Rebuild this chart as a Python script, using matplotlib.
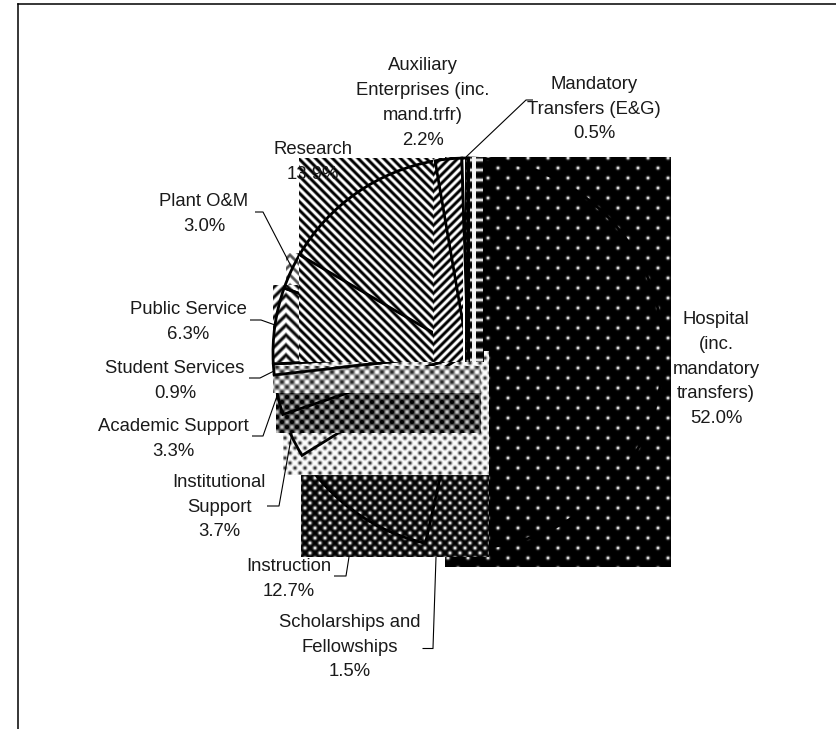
import numpy as np
import matplotlib
matplotlib.use('Agg')
import matplotlib.pyplot as plt

W, H = 836, 729

# clockwise from the top, same order the slices get painted
categories = ['Hospital\n(inc.\nmandatory\ntransfers)', 'Scholarships and\nFellowships',
              'Instruction', 'Institutional\nSupport', 'Academic Support',
              'Student Services', 'Public Service', 'Plant O&M', 'Research',
              'Auxiliary\nEnterprises (inc.\nmand.trfr)', 'Mandatory\nTransfers (E&G)']
shares = [52.0, 1.5, 12.7, 3.7, 3.3, 0.9, 6.3, 3.0, 13.9, 2.2, 0.5]

# layout, in image pixels (y down)
label_pos = [(716, 369), (350, 647), (289, 579), (219, 507), (173, 439),
             (175, 381), (188, 322), (204, 214), (313, 162), (423, 103), (594, 109)]
fill_boxes = [(445, 157, 671, 567), (425, 475, 489, 557), (301, 475, 489, 557),
              (283, 351, 489, 475), (276, 393, 481, 433), (273, 366, 481, 393),
              (273, 285, 299, 362), (286, 253, 299, 285), (299, 158, 433, 362),
              (433, 158, 463, 362), (463, 157, 484, 362)]
leaders = [[(433, 648), (436, 557)], [(422, 648), (433, 648)],
           [(334, 576), (346, 576), (349, 557)],
           [(267, 506), (279, 506), (292, 433)],
           [(252, 436), (263, 436), (277, 396)],
           [(249, 378), (260, 378), (274, 371)],
           [(250, 320), (261, 320), (275, 325)],
           [(255, 212), (263, 212), (292, 268)],
           [(533, 100), (526, 100), (466, 157)]]
pie_center = (468, 353)
pie_radius = 195


def dots(X, Y, period, x0, y0, size):
    d = []
    for ox, oy in [(0, 0), (period / 2, period / 2)]:
        dx = (X - x0 - ox + period / 2) % period - period / 2
        dy = (Y - y0 - oy + period / 2) % period - period / 2
        d.append(dx ** 2 + dy ** 2)
    return np.exp(-np.minimum(d[0], d[1]) / (2 * size ** 2))


def waves(phase, period, mid=0.5, amp=0.62):
    return mid + amp * np.cos(2 * np.pi * phase / period)


def mandatory_fill(X, Y):
    v = np.zeros_like(X, dtype=float)
    v[X < 465] = 1
    on_row = ((Y - 160 + 5) % 10 - 5) ** 2
    v = np.maximum(v, ((X >= 470) & (X < 483)) * np.exp(-on_row / 3) * 0.95)
    v = np.maximum(v, 0.95 * ((X >= 472) & (X < 476)))
    v = np.maximum(v, 0.7 * np.exp(-((X - 467.5) ** 2 + ((Y - 161 + 5) % 10 - 5) ** 2) / 1.5))
    return v


fills = [
    lambda X, Y: dots(X, Y, 20, 508, 158, 1.2),
    lambda X, Y: dots(X, Y, 10, 315, 478, 1.3),
    lambda X, Y: dots(X, Y, 10, 315, 478, 1.3),
    lambda X, Y: 1 - 0.85 * dots(X, Y, 10, 320, 453, 1.4),
    lambda X, Y: 0.30 + 0.50 * np.cos(2 * np.pi * (X - 287) / 10) * np.cos(2 * np.pi * (Y - 382) / 10),
    lambda X, Y: 0.62 + 0.48 * np.cos(2 * np.pi * (X - 287) / 10) * np.cos(2 * np.pi * (Y - 382) / 10),
    lambda X, Y: waves(Y - np.abs(X - 286), 10, 0.62, 0.6),
    lambda X, Y: waves(Y - np.abs(X - 290), 10, 0.8, 0.5),
    lambda X, Y: waves(X - Y, 8.5),
    lambda X, Y: waves(X + Y, 8.5),
    mandatory_fill,
]


def flip(y):
    return H - y


fig, ax = plt.subplots(figsize=(W / 100, H / 100), dpi=100)
fig.subplots_adjust(0, 0, 1, 1)

wedges, _ = ax.pie(shares, startangle=90, counterclock=False,
                   center=(pie_center[0], flip(pie_center[1])), radius=pie_radius,
                   wedgeprops=dict(facecolor='none', edgecolor='black', linewidth=2.0))

# each slice paints its fill box and then its outline, later slices cover earlier ones
for i, (box, fill, wedge) in enumerate(zip(fill_boxes, fills, wedges)):
    x0, y0, x1, y1 = box
    X, Y = np.meshgrid(np.arange(x0, x1) + 0.5, np.arange(y0, y1) + 0.5)
    ax.imshow(np.clip(fill(X, Y), 0, 1), cmap='gray', vmin=0, vmax=1, aspect='auto',
              interpolation='nearest', origin='upper',
              extent=(x0, x1, flip(y1), flip(y0)), zorder=2 * i + 1)
    wedge.set_zorder(2 * i + 2)

for path in leaders:
    xs = [p[0] for p in path]
    ys = [flip(p[1]) for p in path]
    ax.plot(xs, ys, color='black', lw=0.8, zorder=50, solid_capstyle='butt')

for name, share, (x, y) in zip(categories, shares, label_pos):
    ax.text(x, flip(y), f'{name}\n{share:.1f}%', ha='center', va='center', fontsize=13.3,
            family='Liberation Sans', linespacing=1.6, color='#1a1a1a', zorder=60)

# chart frame, right and bottom edges are cut off in the original
ax.plot([17.5, 17.5], [0, flip(3.5)], color='black', lw=1.1, zorder=70)
ax.plot([17.5, W], [flip(3.5), flip(3.5)], color='black', lw=1.1, zorder=70)

ax.set_xlim(0, W)
ax.set_ylim(0, H)
ax.set_axis_off()
fig.savefig('out.png', dpi=100)
